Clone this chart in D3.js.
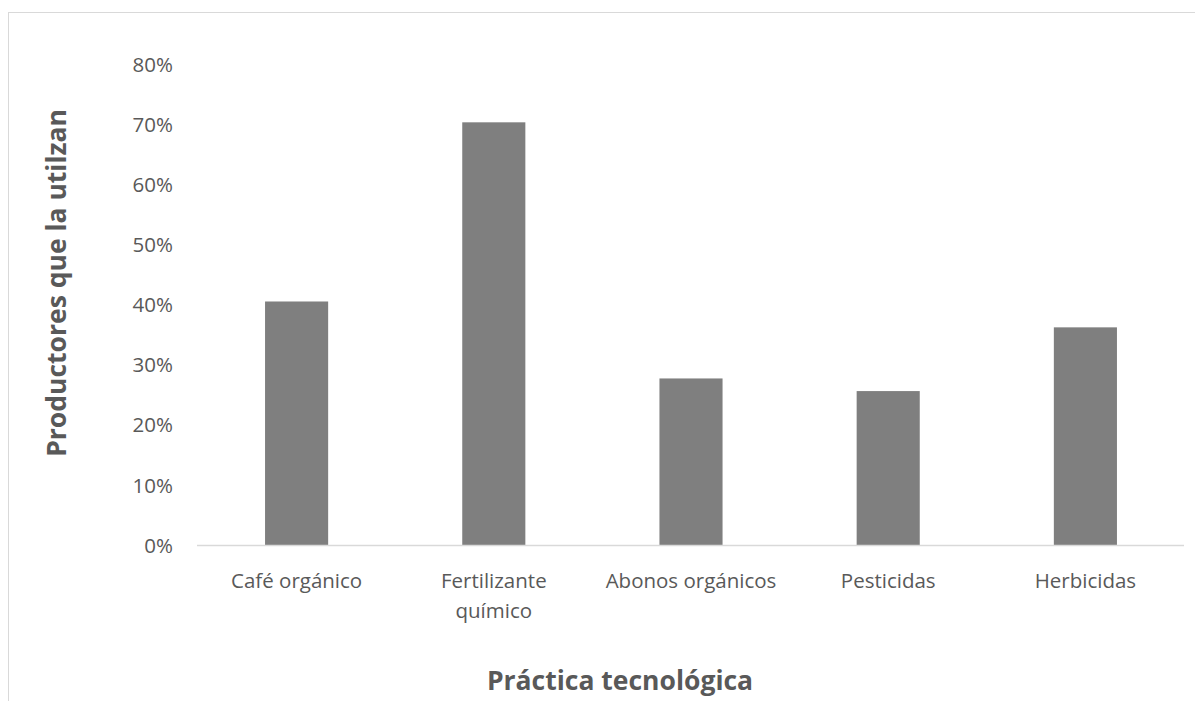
<!DOCTYPE html>
<html lang="es">
  <head>
    <meta charset="UTF-8" />
    <title>Práctica tecnológica</title>
    <script src="https://d3js.org/d3.v7.min.js"></script>
    <style>
      body {
        margin: 0;
        background: #fff;
        font-family: "Open Sans", sans-serif;
        overflow: hidden;
      }
      .tick text {
        fill: #595959;
        font-family: "Open Sans", sans-serif;
        font-size: 20.5px;
      }
      .axis-title {
        fill: #595959;
        font-family: "Open Sans", sans-serif;
        font-size: 26.5px;
        font-weight: bold;
      }
    </style>
  </head>
  <body>
    <svg width="1195" height="701"></svg>

    <script>
      // data
      const categories = ["Café orgánico", "Fertilizante químico", "Abonos orgánicos", "Pesticidas", "Herbicidas"];
      const values = [0.405, 0.703, 0.277, 0.256, 0.362];
      const yTicks = [0, 0.1, 0.2, 0.3, 0.4, 0.5, 0.6, 0.7, 0.8];

      const svg = d3.select("svg");

      // chart frame (runs off the right and bottom edges)
      svg.append("rect")
        .attr("x", 8.5).attr("y", 12.5)
        .attr("width", 1300).attr("height", 800)
        .attr("fill", "none")
        .attr("stroke", "#d9d9d9");

      const x = d3.scaleBand()
        .domain(categories)
        .range([198, 1184])
        .paddingInner(0.68)
        .paddingOuter(0.34);

      const y = d3.scaleLinear()
        .domain([0, 0.8])
        .range([545, 64]);

      // y axis labels only, no line
      const yAxis = svg.append("g")
        .attr("transform", "translate(173,0)")
        .call(d3.axisLeft(y).tickValues(yTicks).tickFormat(d3.format(".0%")).tickSize(0).tickPadding(0));
      yAxis.select(".domain").remove();
      yAxis.selectAll(".tick text").attr("dy", "0.35em");

      // bars
      svg.append("g")
        .selectAll("rect")
        .data(categories)
        .join("rect")
        .attr("x", d => x(d))
        .attr("width", x.bandwidth())
        .attr("y", (d, i) => y(values[i]))
        .attr("height", (d, i) => y(0) - y(values[i]))
        .attr("fill", "#7f7f7f");

      // x axis baseline
      svg.append("line")
        .attr("x1", 197).attr("x2", 1184)
        .attr("y1", 545.5).attr("y2", 545.5)
        .attr("stroke", "#d9d9d9")
        .attr("stroke-width", 1.5);

      // x axis labels (wrapped like the original)
      const xAxis = svg.append("g")
        .attr("transform", "translate(0,545)")
        .call(d3.axisBottom(x).tickSize(0).tickPadding(0));
      xAxis.select(".domain").remove();
      xAxis.selectAll(".tick text")
        .text(null)
        .attr("y", 0)
        .attr("dy", null)
        .each(function (d) {
          const lines = d === "Fertilizante químico" ? ["Fertilizante", "químico"] : [d];
          const t = d3.select(this);
          lines.forEach((l, i) => {
            t.append("tspan").attr("x", 0).attr("y", 43 + i * 30).text(l);
          });
        });

      // axis titles
      svg.append("text")
        .attr("class", "axis-title")
        .attr("text-anchor", "middle")
        .attr("x", 620)
        .attr("y", 690)
        .text("Práctica tecnológica");

      svg.append("text")
        .attr("class", "axis-title")
        .attr("text-anchor", "middle")
        .attr("transform", "translate(66,283) rotate(-90)")
        .text("Productores que la utilzan");
    </script>
  </body>
</html>
